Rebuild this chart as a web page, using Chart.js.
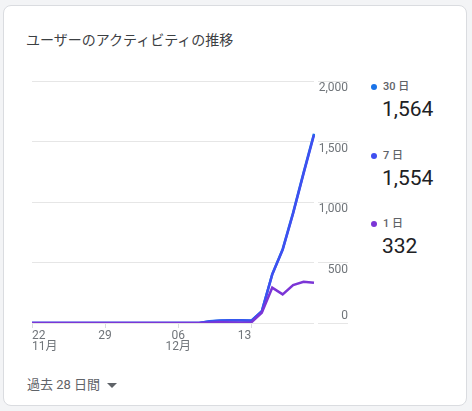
<!DOCTYPE html>
<html lang="ja">
<head>
<meta charset="utf-8">
<script src="https://cdn.jsdelivr.net/npm/chart.js@4"></script>
<style>
  html, body { margin: 0; padding: 0; }
  body {
    width: 472px; height: 411px; position: relative; overflow: hidden;
    background: #f3f4f6;
    font-family: Roboto, "Noto Sans CJK JP", sans-serif;
  }
  .card {
    position: absolute; left: 3px; top: 5px; width: 462px; height: 399px;
    background: #fff; border: 1px solid #dadce0; border-radius: 8px;
  }
  .title {
    position: absolute; left: 26px; top: 29px;
    font: 14px "Noto Sans CJK JP", sans-serif; color: #3c4043; line-height: 20px;
  }
  .chart-box { position: absolute; left: 20px; top: 60px; width: 340px; height: 294px; }
  .legend { position: absolute; left: 368px; top: 0; }
  .item { position: absolute; left: 0; white-space: nowrap; }
  .item .name {
    font: 500 11px Roboto, "Noto Sans CJK JP", sans-serif; color: #5f6368;
    line-height: 14px; display: flex; align-items: center;
  }
  .item .dot { width: 6px; height: 6px; border-radius: 50%; margin: 0 6px 0 3px; display: inline-block; }
  .item .val { font: 21px Roboto, sans-serif; color: #202124; margin-left: 14px; line-height: 26px; margin-top: 2px; }
  .footer {
    position: absolute; left: 27px; top: 376px;
    font: 13px Roboto, "Noto Sans CJK JP", sans-serif; color: #5f6368; line-height: 18px;
  }
  .caret {
    display: inline-block; width: 0; height: 0; margin-left: 7px; vertical-align: middle;
    border-left: 5px solid transparent; border-right: 5px solid transparent; border-top: 5px solid #5f6368;
  }
</style>
</head>
<body>
<div class="card"></div>
<div class="title">ユーザーのアクティビティの推移</div>
<div class="chart-box"><canvas id="chActividad"></canvas></div>
<div class="legend" id="legend"></div>
<div class="footer">過去 28 日間<span class="caret"></span></div>

<script>
// Datos
const days = [
  '11/22','11/23','11/24','11/25','11/26','11/27','11/28','11/29','11/30',
  '12/01','12/02','12/03','12/04','12/05','12/06','12/07','12/08','12/09',
  '12/10','12/11','12/12','12/13','12/14','12/15','12/16','12/17','12/18','12/19'
];
const users30 = [0,0,0,0,0,0,0,0,0,0,0,0,0,0,0,0,0,15,20,22,22,20,97,403,610,912,1243,1564];
const users7  = [0,0,0,0,0,0,0,0,0,0,0,0,0,0,0,0,0,12,18,20,20,18,95,400,605,905,1235,1554];
const users1  = [0,0,0,0,0,0,0,0,0,0,0,0,0,0,0,0,0,3,6,4,3,5,85,292,237,314,341,332];
const tickIdx = [0, 7, 14, 21];
const tickLabels = [['22', '11月'], ['29'], ['06', '12月'], ['13']];
const yTicks = [0, 500, 1000, 1500, 2000];

const series = [
  { name: '30 日', color: '#1a73e8', data: users30, total: '1,564', order: 2 },
  { name: '7 日',  color: '#3f4ff0', data: users7,  total: '1,554', order: 1 },
  { name: '1 日',  color: '#7b35d6', data: users1,  total: '332',   order: 0 }
];

// Leyenda a la derecha
const legendTops = [80, 149, 217];
const legend = document.getElementById('legend');
series.forEach((s, i) => {
    const el = document.createElement('div');
    el.className = 'item';
    el.style.top = legendTops[i] + 'px';
    el.innerHTML = `<div class="name"><span class="dot" style="background:${s.color}"></span>${s.name}</div>` +
                   `<div class="val">${s.total}</div>`;
    legend.appendChild(el);
});

const fmt = v => v.toLocaleString('en-US');

new Chart(document.getElementById('chActividad'), {
    type: 'line',
    data: {
        labels: days,
        datasets: series.map(s => ({
            label: s.name,
            data: s.data,
            borderColor: s.color,
            backgroundColor: s.color,
            borderWidth: 2.5,
            pointRadius: 0,
            tension: 0,
            order: s.order
        }))
    },
    options: {
        responsive: true,
        maintainAspectRatio: false,
        animation: false,
        layout: { padding: { top: 21, left: 12, right: 12, bottom: 0 } },
        plugins: { legend: { display: false }, tooltip: { enabled: false } },
        scales: {
            x: {
                offset: false,
                border: { display: false },
                grid: { drawOnChartArea: false, tickLength: 5, color: '#dadce0' },
                afterBuildTicks(scale) {
                    scale.ticks = tickIdx.map(v => ({ value: v }));
                },
                ticks: {
                    autoSkip: false,
                    maxRotation: 0,
                    align: 'inner',
                    padding: 2,
                    color: '#70757a',
                    font: { family: 'Roboto, "Noto Sans CJK JP"', size: 12, lineHeight: '11px' },
                    callback: (v, i) => tickLabels[i]
                }
            },
            y: {
                position: 'right',
                min: 0,
                max: 2000,
                border: { display: false },
                grid: {
                    color: '#e6e6e6',
                    tickLength: 34,
                    tickBorderDash: [0, 4, 30, 1000]
                },
                afterBuildTicks(scale) {
                    scale.ticks = yTicks.map(v => ({ value: v }));
                },
                afterFit(scale) { scale.width = 34; },
                ticks: {
                    crossAlign: 'far',
                    padding: -30,
                    color: '#70757a',
                    font: { family: 'Roboto', size: 12, lineHeight: '14px' },
                    // 0 arriba de la línea, el resto debajo
                    callback: v => v === 0 ? ['0', ''] : ['', fmt(v)]
                }
            }
        }
    }
});
</script>
</body>
</html>
